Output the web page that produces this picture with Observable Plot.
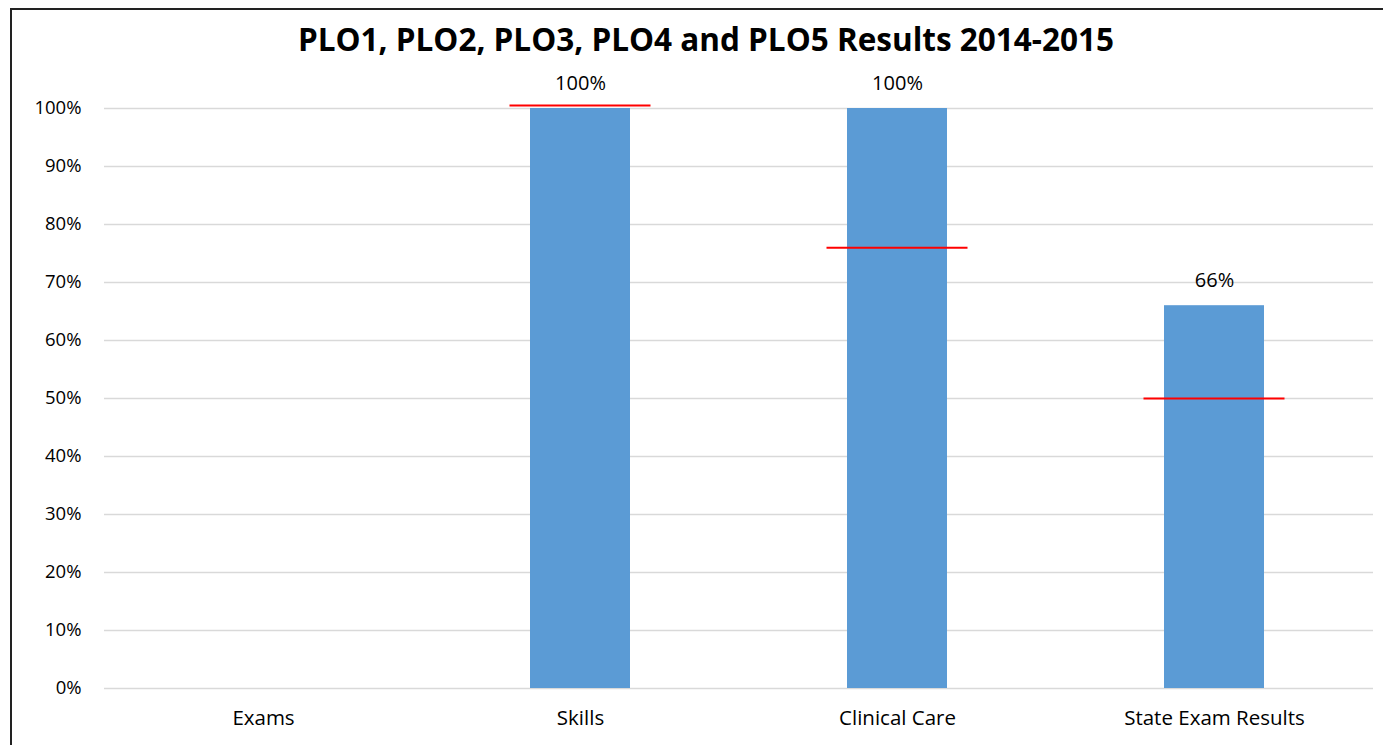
<!DOCTYPE html>
<html>
<head>
<meta charset="utf-8">
<script src="https://cdn.jsdelivr.net/npm/d3@7"></script>
<script src="https://cdn.jsdelivr.net/npm/@observablehq/plot@0.6"></script>
<style>
  html, body { margin: 0; padding: 0; background: #fff; width: 1383px; height: 745px; overflow: hidden; }
  #frame { position: absolute; left: 10px; top: 8px; width: 1400px; height: 800px; border-top: 2px solid #222; border-left: 2px solid #222; box-sizing: border-box; }
  #title { position: absolute; left: 0; width: 1412px; top: 20px; text-align: center; font-family: "Open Sans", sans-serif; font-weight: bold; font-size: 31.5px; color: #000; line-height: 1.2; }
  #chart { position: absolute; left: 0; top: 0; }
</style>
</head>
<body>
<div id="frame"></div>
<div id="chart"></div>
<div id="title">PLO1, PLO2, PLO3, PLO4 and PLO5 Results 2014-2015</div>
<script>
const categories = ["Exams", "Skills", "Clinical Care", "State Exam Results"];
const results = [null, 1.00, 1.00, 0.66];
const targets = [null, 1.005, 0.76, 0.50];
const yTicks = [0, 0.1, 0.2, 0.3, 0.4, 0.5, 0.6, 0.7, 0.8, 0.9, 1.0];

const rows = categories.map((c, i) => ({category: c, result: results[i], target: targets[i]}));
const barRows = rows.filter(d => d.result != null);
const targetRows = rows.filter(d => d.target != null);
const pct = d3.format(".0%");

const chart = Plot.plot({
  width: 1383,
  height: 745,
  marginLeft: 104,
  marginRight: 10,
  marginTop: 108,
  marginBottom: 57,
  style: {fontFamily: "'Open Sans', sans-serif", background: "transparent"},
  x: {domain: categories, paddingInner: 0.685, paddingOuter: 0.3425, label: null},
  y: {domain: [0, 1], label: null},
  marks: [
    Plot.ruleY(yTicks, {stroke: "#d9d9d9", strokeWidth: 1.5}),
    Plot.barY(barRows, {x: "category", y: "result", fill: "#5b9bd5"}),
    Plot.tickY(targetRows, {x: "category", y: "target", stroke: "#ff0000", strokeWidth: 2, insetLeft: -20.5, insetRight: -20.5}),
    Plot.text(barRows, {x: "category", y: "result", text: d => pct(d.result), dy: -25, fontSize: 20, fill: "#000"}),
    Plot.axisY({ticks: yTicks, tickFormat: pct, tickSize: 0, tickPadding: 23, fontSize: 18.5, color: "#000", label: null}),
    Plot.axisX({tickSize: 0, tickPadding: 22, fontSize: 20.5, color: "#000", label: null})
  ]
});
document.getElementById("chart").appendChild(chart);
</script>
</body>
</html>
